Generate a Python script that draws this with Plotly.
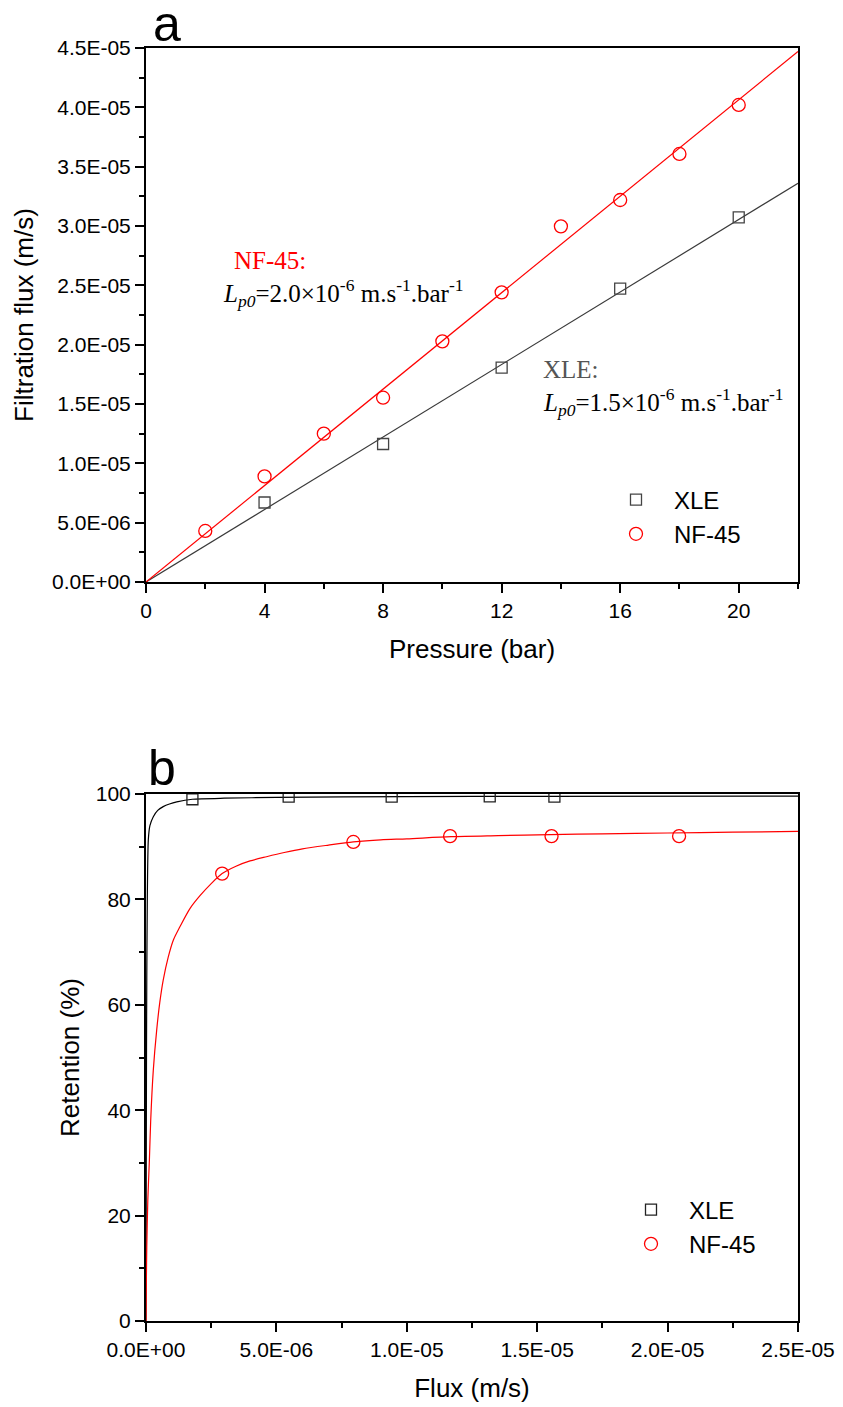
import plotly.graph_objects as go

# ---------------- data: panel a (flux vs pressure) ----------------
xle_pressure = [4, 8, 12, 16, 20]
xle_flux = [6.7e-06, 1.163e-05, 1.806e-05, 2.472e-05, 3.073e-05]
nf_pressure = [2, 4, 6, 8, 10, 12, 14, 16, 18, 20]
nf_flux = [4.3e-06, 8.9e-06, 1.25e-05, 1.553e-05, 2.028e-05, 2.441e-05, 2.997e-05, 3.219e-05, 3.607e-05, 4.02e-05]
fit_pressure = [0, 22]
xle_fit_flux = [0.0, 3.36e-05]
nf_fit_flux = [0.0, 4.47e-05]

a_xticks = [0, 4, 8, 12, 16, 20]
a_yticks = [0, 5e-06, 1e-05, 1.5e-05, 2e-05, 2.5e-05, 3e-05, 3.5e-05, 4e-05, 4.5e-05]
a_yticklabels = ["0.0E+00", "5.0E-06", "1.0E-05", "1.5E-05", "2.0E-05", "2.5E-05",
                 "3.0E-05", "3.5E-05", "4.0E-05", "4.5E-05"]

# ---------------- data: panel b (retention vs flux) ----------------
xle_b_flux = [1.78e-06, 5.47e-06, 9.42e-06, 1.318e-05, 1.566e-05]
xle_b_ret = [99.0, 99.5, 99.5, 99.56, 99.5]
nf_b_flux = [2.92e-06, 7.95e-06, 1.166e-05, 1.555e-05, 2.044e-05]
nf_b_ret = [84.9, 90.9, 92.0, 92.0, 92.0]

xle_curve_flux = [0, 1e-08, 2e-08, 3e-08, 5e-08, 8.8e-08, 1.5e-07, 2.8e-07, 4.5e-07, 6.6e-07,
                  9e-07, 1.18e-06, 1.78e-06, 3e-06, 5e-06, 1e-05, 1.5e-05, 2.5e-05]
xle_curve_ret = [0, 30, 52, 65, 80, 91.3, 94.0, 95.7, 96.9, 97.6, 98.1, 98.5, 99.0, 99.2,
                 99.35, 99.5, 99.55, 99.6]
nf_curve_flux = [0, 1.5e-08, 3e-08, 7e-08, 1.3e-07, 1.8e-07, 2.8e-07, 4.1e-07, 5.3e-07, 6.6e-07,
                 8.5e-07, 1.05e-06, 1.3e-06, 1.69e-06, 2.07e-06, 2.5e-06, 2.92e-06, 3.45e-06,
                 3.99e-06, 4.62e-06, 5.3e-06, 6e-06, 7e-06, 7.95e-06, 9e-06, 1e-05, 1.17e-05,
                 1.35e-05, 1.55e-05, 1.75e-05, 2e-05, 2.25e-05, 2.5e-05]
nf_curve_ret = [0, 8, 14, 23, 30.5, 38.0, 47.6, 55.2, 60.5, 64.7, 69.0, 72.3, 74.8, 78.3,
                80.7, 83.0, 84.9, 86.3, 87.3, 88.1, 88.9, 89.6, 90.3, 90.9, 91.3, 91.5, 91.9,
                92.1, 92.3, 92.45, 92.6, 92.75, 92.9]

b_xticks = [0, 5e-06, 1e-05, 1.5e-05, 2e-05, 2.5e-05]
b_xticklabels = ["0.0E+00", "5.0E-06", "1.0E-05", "1.5E-05", "2.0E-05", "2.5E-05"]
b_yticks = [0, 20, 40, 60, 80, 100]

RED = "#ff0000"
GRAY = "#444444"
FONT = "Liberation Sans, Arial, sans-serif"
SERIF = "Liberation Serif, Times New Roman, serif"

# page has an 8px body margin: the figure is drawn 8px right/down of the window origin
OFF = 8
W, H = 843 - OFF, 1407 - OFF
L, R, T, B = 146 - OFF, 798 - OFF, 48 - OFF, 1321 - OFF  # plot area in figure pixels


def px(x):
    """window x pixel -> paper fraction"""
    return (x - OFF - L) / (R - L)


def py(y):
    """window y pixel -> paper fraction"""
    return (B - (y - OFF)) / (B - T)


fig = go.Figure()

# panel a
fig.add_trace(go.Scatter(x=fit_pressure, y=xle_fit_flux, mode="lines",
                         line=dict(color="#3a3a3a", width=1.2), showlegend=False,
                         xaxis="x", yaxis="y"))
fig.add_trace(go.Scatter(x=fit_pressure, y=nf_fit_flux, mode="lines",
                         line=dict(color=RED, width=1.2), showlegend=False,
                         xaxis="x", yaxis="y"))
fig.add_trace(go.Scatter(x=xle_pressure, y=xle_flux, mode="markers", name="XLE",
                         marker=dict(symbol="square-open", size=11, color=GRAY,
                                     line=dict(width=1.3, color=GRAY)),
                         xaxis="x", yaxis="y", legend="legend"))
fig.add_trace(go.Scatter(x=nf_pressure, y=nf_flux, mode="markers", name="NF-45",
                         marker=dict(symbol="circle-open", size=13, color=RED,
                                     line=dict(width=1.3, color=RED)),
                         xaxis="x", yaxis="y", legend="legend"))

# panel b
fig.add_trace(go.Scatter(x=xle_curve_flux, y=xle_curve_ret, mode="lines",
                         line=dict(color="#000000", width=1.2, shape="spline", smoothing=0.6),
                         showlegend=False, xaxis="x2", yaxis="y2"))
fig.add_trace(go.Scatter(x=nf_curve_flux, y=nf_curve_ret, mode="lines",
                         line=dict(color=RED, width=1.2, shape="spline", smoothing=0.8),
                         showlegend=False, xaxis="x2", yaxis="y2"))
fig.add_trace(go.Scatter(x=xle_b_flux, y=xle_b_ret, mode="markers", name="XLE",
                         marker=dict(symbol="square-open", size=11, color="#222222",
                                     line=dict(width=1.3, color="#222222")),
                         xaxis="x2", yaxis="y2", legend="legend2"))
fig.add_trace(go.Scatter(x=nf_b_flux, y=nf_b_ret, mode="markers", name="NF-45",
                         marker=dict(symbol="circle-open", size=13, color=RED,
                                     line=dict(width=1.3, color=RED)),
                         xaxis="x2", yaxis="y2", legend="legend2"))

axis_common = dict(showline=True, linecolor="black", linewidth=2, mirror=True,
                   ticks="outside", ticklen=9, tickwidth=2, tickcolor="black",
                   showgrid=False, zeroline=False, automargin=False,
                   tickfont=dict(family=FONT, size=21, color="black"))
minor_common = dict(ticks="outside", ticklen=5, tickwidth=2, tickcolor="black", showgrid=False)
legend_common = dict(xanchor="left", yanchor="middle", bgcolor="rgba(0,0,0,0)",
                     borderwidth=0, itemwidth=66, tracegroupgap=0,
                     font=dict(family=FONT, size=24, color="black"))

fig.update_layout(
    width=W, height=H,
    margin=dict(l=L, r=W - R, t=T, b=H - B, autoexpand=False),
    paper_bgcolor="white", plot_bgcolor="white",
    font=dict(family=FONT, color="black"),
    xaxis=dict(domain=[0, 1], range=[0, 22], tickvals=a_xticks,
               minor=dict(dtick=2, **minor_common), anchor="y",
               title=dict(text="Pressure (bar)", font=dict(size=26), standoff=19),
               **axis_common),
    yaxis=dict(domain=[py(582), 1], range=[0, 4.5e-05], tickvals=a_yticks,
               ticktext=a_yticklabels, minor=dict(dtick=2.5e-06, **minor_common),
               anchor="x",
               title=dict(text="Filtration flux (m/s)", font=dict(size=26), standoff=11),
               **axis_common),
    xaxis2=dict(domain=[0, 1], range=[0, 2.5e-05], tickvals=b_xticks,
                ticktext=b_xticklabels, minor=dict(dtick=2.5e-06, **minor_common),
                anchor="y2",
                title=dict(text="Flux (m/s)", font=dict(size=26), standoff=19),
                **axis_common),
    yaxis2=dict(domain=[0, py(794)], range=[0, 100], tickvals=b_yticks,
                minor=dict(dtick=10, **minor_common), anchor="x2",
                title=dict(text="Retention (%)", font=dict(size=26), standoff=9),
                **axis_common),
    legend=dict(x=px(598), y=py(517), **legend_common),
    legend2=dict(x=px(613), y=py(1227), **legend_common),
    showlegend=True,
)

annotations = [
    dict(text="a", x=px(151), y=py(54), xanchor="left", yanchor="bottom",
         font=dict(family=FONT, size=50, color="black")),
    dict(text="b", x=px(146), y=py(798), xanchor="left", yanchor="bottom",
         font=dict(family=FONT, size=50, color="black")),
    dict(text="NF-45:", x=px(232), y=py(260), xanchor="left", yanchor="middle",
         font=dict(family=SERIF, size=25, color=RED)),
    dict(text="<i>L</i><sub><i>p0</i></sub>=2.0×10<sup>-6</sup> m.s<sup>-1</sup>.bar<sup>-1</sup>",
         x=px(221), y=py(293), xanchor="left", yanchor="middle",
         font=dict(family=SERIF, size=25, color="black")),
    dict(text="XLE:", x=px(541), y=py(369), xanchor="left", yanchor="middle",
         font=dict(family=SERIF, size=25, color="#555555")),
    dict(text="<i>L</i><sub><i>p0</i></sub>=1.5×10<sup>-6</sup> m.s<sup>-1</sup>.bar<sup>-1</sup>",
         x=px(541), y=py(402), xanchor="left", yanchor="middle",
         font=dict(family=SERIF, size=25, color="black")),
]
for a in annotations:
    a.update(xref="paper", yref="paper", showarrow=False)
fig.update_layout(annotations=annotations)

fig.write_html("out.html")
